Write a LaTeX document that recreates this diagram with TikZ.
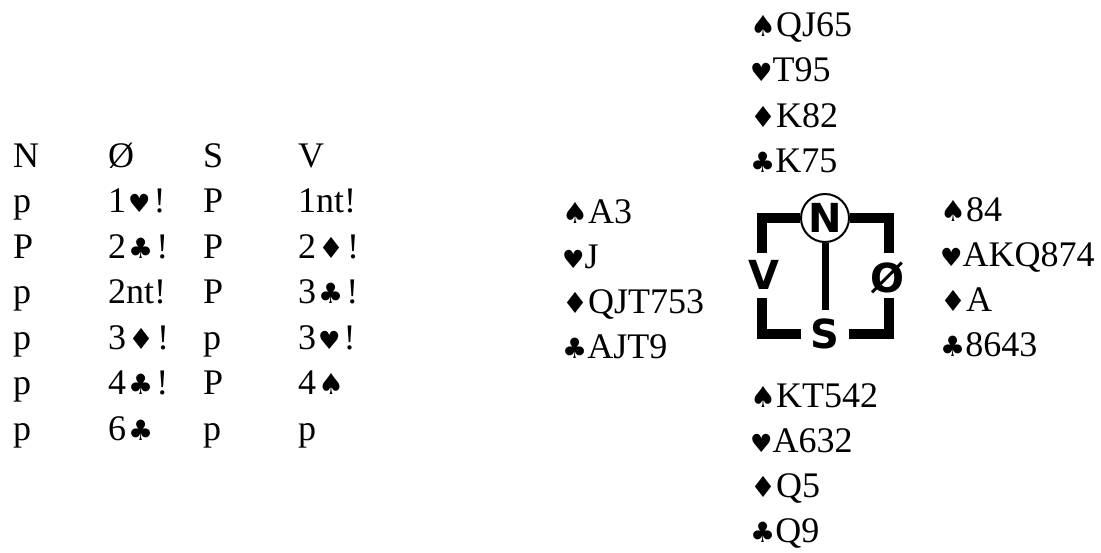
\documentclass[tikz,border=0pt]{standalone}
\usepackage{fontspec}
\setmainfont{Liberation Serif}
\newfontfamily\suitfont{DejaVu Sans}
\newfontfamily\compfont{DejaVu Sans}
\newcommand\suitS{{\suitfont\fontsize{29}{29}\selectfont ♠}}
\newcommand\suitH{{\suitfont\fontsize{25}{25}\selectfont ♥}}
\newcommand\suitD{{\suitfont\fontsize{29}{29}\selectfont ♦}}
\newcommand\suitC{{\suitfont\fontsize{28}{28}\selectfont ♣}}
\tikzset{
  card/.style={anchor=base west,inner sep=0pt,font=\fontsize{36}{40}\selectfont},
  dirletter/.style={inner sep=0pt,font=\compfont\bfseries\fontsize{40}{40}\selectfont},
  frame/.style={line width=10pt},
  stem/.style={line width=7pt},
}
\begin{document}
\begin{tikzpicture}[x=1pt,y=-1pt]
\useasboundingbox (0,0) rectangle (1101,552);
% bidding
\foreach \y/\a/\b/\c/\d [count=\r] in {167/N/Ø/S/V,
    212.5/p/1\kern2pt\suitH\kern3pt!/P/1nt!,
    258/P/2\kern2pt\suitC\kern3pt!/P/2\kern2pt\suitD\kern3pt!,
    303.5/p/2nt!/P/3\kern2pt\suitC\kern3pt!,
    349/p/3\kern2pt\suitD\kern3pt!/p/3\kern2pt\suitH\kern3pt!,
    394.5/p/4\kern2pt\suitC\kern3pt!/P/4\kern2pt\suitS,
    440/p/6\kern2pt\suitC/p/p}{
  \node[card] (bid-\r-a) at (13,\y) {\a};
  \node[card] (bid-\r-b) at (108,\y) {\b};
  \node[card] (bid-\r-c) at (203,\y) {\c};
  \node[card] (bid-\r-d) at (298,\y) {\d};
}
% hands
\foreach \t [count=\i] in {\suitS QJ65,\suitH T95,\suitD K82,\suitC K75}
  \node[card] (north-\i) at (750,{36+45.5*(\i-1)}) {\t};
\foreach \t [count=\i] in {\suitS A3,\suitH J,\suitD QJT753,\suitC AJT9}
  \node[card] (west-\i) at (562,{223+45*(\i-1)}) {\t};
\foreach \t [count=\i] in {\suitS 84,\suitH AKQ874,\suitD A,\suitC 8643}
  \node[card] (east-\i) at (940,{221+45*(\i-1)}) {\t};
\foreach \t [count=\i] in {\suitS KT542,\suitH A632,\suitD Q5,\suitC Q9}
  \node[card] (south-\i) at (750,{407+45*(\i-1)}) {\t};
% compass
\node[dirletter,draw,circle,line width=2pt,minimum size=48pt] (north) at (825,218) {N};
\node[dirletter] (west) at (764,275) {V};
\node[dirletter] (east) at (887,278) {Ø};
\node[dirletter] (south) at (825,334) {S};
\draw[frame] (762,253) |- (north);
\draw[frame] (889,253) |- (north);
\draw[frame] (762,298) |- ([xshift=-24pt]south.center);
\draw[frame] (889,298) |- ([xshift=24pt]south.center);
\draw[stem,shorten >=9pt] (north) -- (south.north);
\end{tikzpicture}
\end{document}
